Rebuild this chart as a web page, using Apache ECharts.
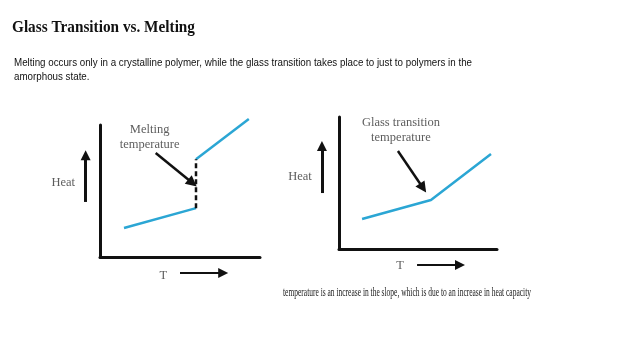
<!DOCTYPE html>
<html>
<head>
<meta charset="utf-8">
<script src="https://cdn.jsdelivr.net/npm/echarts@6/dist/echarts.min.js"></script>
<style>html,body{margin:0;padding:0;background:#fff;}#c{width:638px;height:359px;}</style>
</head>
<body>
<div id="c"></div>
<script>
// ---- data (abstract units: T on x, Heat on y, 0..100 axes) ----
const meltBelow = [[15, 22], [60, 37]];
const meltJump = [[60, 37], [60, 74]];
const meltAbove = [[60, 74], [93, 104.5]];
const glassCurve = [[14.6, 22.7], [58.2, 37.1], [96.2, 72]];

const meltPointer = [[34.8, 78.8], [57.8, 56.1]];
const glassPointer = [[37.3, 74.2], [53.2, 46.2]];
const heatArrowL = [[-9, 41.7], [-9, 77]];
const heatArrowR = [[-10.8, 42.4], [-10.8, 78]];
const tArrowL = [[50, -12.1], [77, -12.1]];
const tArrowR = [[49.4, -12.1], [76.6, -12.1]];

const labelsL = [
  { name: 'Melting\ntemperature', value: [31, 90.5] },
  { name: 'Heat', value: [-23, 56] },
  { name: 'T', value: [39.5, -14.4] }
];
const labelsR = [
  { name: 'Glass transition\ntemperature', value: [39.2, 89.8] },
  { name: 'Heat', value: [-24.7, 54.5] },
  { name: 'T', value: [38.6, -12.9] }
];

const titleText = 'Glass Transition vs. Melting';
const subLine1 = 'Melting occurs only in a crystalline polymer, while the glass transition takes place to just to polymers in the';
const subLine2 = 'amorphous state.';
const captionText = 'temperature is an increase in the slope, which is due to an increase in heat capacity';

// ---- helpers ----
const mctx = document.createElement('canvas').getContext('2d');
function measure(text, font) { mctx.font = font; return mctx.measureText(text).width; }

const blue = '#2ba6d4';
const serif = '"Liberation Serif", "Times New Roman", serif';
const sans = '"Liberation Sans", Arial, sans-serif';

function axisPair(i) {
  return [
    { gridIndex: i, type: 'value', min: 0, max: 100,
      axisLine: { show: true, onZero: true, lineStyle: { color: '#111', width: 3 } },
      axisTick: { show: false }, axisLabel: { show: false }, splitLine: { show: false } },
    { gridIndex: i, type: 'value', min: 0, max: 100,
      axisLine: { show: true, onZero: true, lineStyle: { color: '#111', width: 3 } },
      axisTick: { show: false }, axisLabel: { show: false }, splitLine: { show: false } }
  ];
}
const [xL, yL] = axisPair(0);
const [xR, yR] = axisPair(1);

function lineSeries(data, idx, style) {
  return { type: 'line', xAxisIndex: idx, yAxisIndex: idx, data: data, showSymbol: false,
    symbol: 'none', clip: false, silent: true, lineStyle: style };
}
function arrowSeries(list, idx, width, size) {
  return { type: 'lines', coordinateSystem: 'cartesian2d', xAxisIndex: idx, yAxisIndex: idx,
    clip: false, silent: true, symbol: ['none', 'triangle'], symbolSize: size,
    lineStyle: { color: '#111', width: width, opacity: 1 },
    data: list.map(c => ({ coords: c })) };
}
function labelSeries(list, idx) {
  return { type: 'scatter', xAxisIndex: idx, yAxisIndex: idx, clip: false, silent: true,
    symbolSize: 0, data: list,
    label: { show: true, position: 'inside', formatter: p => p.name, color: '#333',
      fontFamily: serif, fontSize: 12.5, lineHeight: 15 } };
}

const titleFont = 'bold 17px ' + serif;
const subFont = '11px ' + sans;
const capFont = '13px ' + serif;
const titleScale = 183 / measure(titleText, titleFont);
const subScale = 458 / measure(subLine1, subFont);
const capScale = 248 / measure(captionText, capFont);

const chart = echarts.init(document.getElementById('c'), null, { renderer: 'canvas' });
chart.setOption({
  animation: false,
  backgroundColor: '#fff',
  grid: [
    { left: 100, top: 125, width: 160, height: 132 },
    { left: 339, top: 117, width: 158, height: 132 }
  ],
  xAxis: [xL, xR],
  yAxis: [yL, yR],
  series: [
    lineSeries(meltBelow, 0, { color: blue, width: 2.5 }),
    lineSeries(meltAbove, 0, { color: blue, width: 2.5 }),
    lineSeries(meltJump, 0, { color: '#111', width: 2.5, type: [5, 3] }),
    lineSeries(glassCurve, 1, { color: blue, width: 2.5 }),
    arrowSeries([meltPointer], 0, 2.5, 11),
    arrowSeries([glassPointer], 1, 2.5, 11),
    arrowSeries([heatArrowL], 0, 3, 10),
    arrowSeries([heatArrowR], 1, 3, 10),
    arrowSeries([tArrowL], 0, 2, 10),
    arrowSeries([tArrowR], 1, 2, 10),
    labelSeries(labelsL, 0),
    labelSeries(labelsR, 1)
  ],
  graphic: [
    { type: 'text', left: 12, top: 19, scaleX: titleScale, originX: 12, originY: 0,
      style: { text: titleText, font: titleFont, fill: '#111' } },
    { type: 'text', x: 14, y: 56, scaleX: subScale,
      style: { text: subLine1 + '\n' + subLine2, font: subFont, lineHeight: 14, fill: '#111' } },
    { type: 'text', x: 283, y: 286, scaleX: capScale,
      style: { text: captionText, font: capFont, fill: '#222' } }
  ]
});
</script>
</body>
</html>
